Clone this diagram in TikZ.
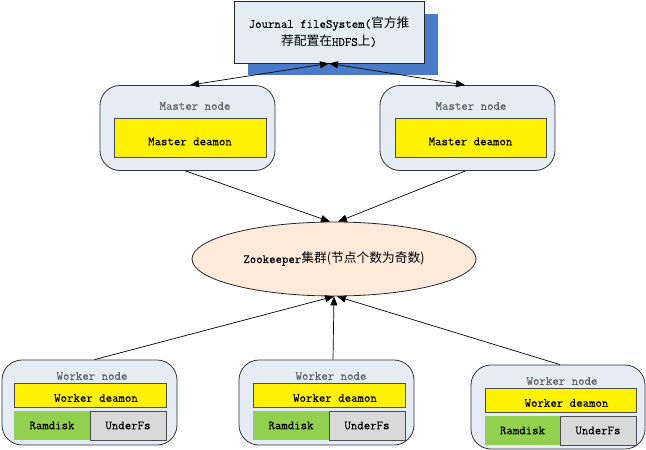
\documentclass[tikz,border=0pt]{standalone}
\usepackage{fontspec}
\setmonofont{Latin Modern Mono}[FakeBold=0.25]
\newfontfamily\cjk[Scale=1.02]{Noto Sans CJK SC}
\usetikzlibrary{shapes.geometric,arrows.meta}
\definecolor{nodefill}{HTML}{E6ECF6}
\definecolor{ellfill}{HTML}{FDEADA}
\definecolor{shadowblue}{HTML}{4A7BC8}
\definecolor{ygreen}{HTML}{92D050}
\definecolor{lgray}{HTML}{D9D9D9}
\definecolor{textgray}{HTML}{606060}
\tikzset{
  txt/.style={font=\ttfamily\fontsize{12.5pt}{15pt}\selectfont},
  outer/.style={draw=black!80, line width=0.8pt, fill=nodefill, rounded corners=20pt, minimum width=175pt, minimum height=85pt, inner sep=0pt},
  ybox/.style={draw=black!70, line width=0.7pt, fill=yellow, minimum width=152pt, txt, inner sep=0pt},
  gbox/.style={fill=ygreen, minimum width=76pt, minimum height=29pt, txt, inner sep=0pt},
  ubox/.style={draw=black!70, line width=0.7pt, fill=lgray, minimum width=76pt, minimum height=29pt, txt, inner sep=0pt},
  lab/.style={txt, text=textgray},
  arr/.style={line width=0.7pt, -{Triangle[length=9pt,width=7pt]}},
  darr/.style={line width=0.7pt, {Triangle[length=9pt,width=7pt]}-{Triangle[length=9pt,width=7pt]}}
}
\begin{document}
\begin{tikzpicture}[x=1pt,y=-1pt]
\useasboundingbox (0,0) rectangle (646,450);
% journal
\node[fill=shadowblue, minimum width=190pt, minimum height=61pt, inner sep=0pt] (shadow) at (343,44.5) {};
\node[draw=black!85, line width=0.8pt, fill=nodefill, minimum width=190pt, minimum height=62pt, inner sep=0pt, txt, align=center] (journal) at (329,32)
  {Journal fileSystem({\cjk 官方推}\\[3pt]{\cjk 荐配置在}HDFS{\cjk 上})};
% masters
\node[outer] (mL) at (187.5,128) {};
\node[lab] (mLlab) at (195,106) {Master node};
\node[ybox, minimum height=39pt, label={[txt,yshift=-4pt]center:Master deamon}] (mLd) at (190,137.5) {};
\node[outer] (mR) at (467.5,128) {};
\node[lab] (mRlab) at (471,106) {Master node};
\node[ybox, minimum width=151pt, minimum height=39pt, label={[txt,yshift=-4pt]center:Master deamon}] (mRd) at (470.5,137.5) {};
% zookeeper
\node[ellipse, draw=black!85, line width=0.8pt, fill=ellfill, minimum width=284pt, minimum height=74pt, inner sep=0pt, txt] (zk) at (334,259) {Zookeeper{\cjk 集群(节点个数为奇数)}};
% workers
\node[outer] (wL) at (89.5,402.5) {};
\node[lab] (wLlab) at (92,376) {Worker node};
\node[ybox, minimum height=24pt, label={[txt,xshift=6pt,yshift=-3pt]center:Worker deamon}] (wLd) at (90,395) {};
\node[gbox] (wLr) at (52,425.5) {Ramdisk};
\node[ubox] (wLu) at (128,425.5) {UnderFs};
\node[outer] (wM) at (326.5,402.5) {};
\node[lab] (wMlab) at (331,376) {Worker node};
\node[ybox, minimum height=24pt, label={[txt,xshift=6pt,yshift=-3pt]center:Worker deamon}] (wMd) at (329,395) {};
\node[gbox] (wMr) at (291,425.5) {Ramdisk};
\node[ubox] (wMu) at (367,425.5) {UnderFs};
\node[outer, minimum width=174pt, minimum height=84pt] (wR) at (558,407) {};
\node[lab] (wRlab) at (562,381) {Worker node};
\node[ybox, minimum width=151pt, minimum height=24pt, label={[txt,xshift=6pt,yshift=-3pt]center:Worker deamon}] (wRd) at (560.5,400) {};
\node[gbox, minimum width=75pt] (wRr) at (522.5,430.5) {Ramdisk};
\node[ubox] (wRu) at (598,430.5) {UnderFs};
% connectors
\draw[darr] (journal.south) -- ([xshift=2.5pt]mL.north);
\draw[darr] (journal.south) -- ([xshift=-2.5pt]mR.north);
\draw[arr] ([xshift=-2pt]mL.south) -- ([xshift=-4pt]zk.north);
\draw[arr] ([xshift=-2pt]mR.south) -- ([xshift=4pt]zk.north);
\draw[arr] ([xshift=5pt]wL.north) -- (zk.south);
\draw[arr] ([xshift=6.5pt]wM.north) -- (zk.south);
\draw[arr] ([xshift=2pt]wR.north) -- ([xshift=3pt]zk.south);
\end{tikzpicture}
\end{document}
